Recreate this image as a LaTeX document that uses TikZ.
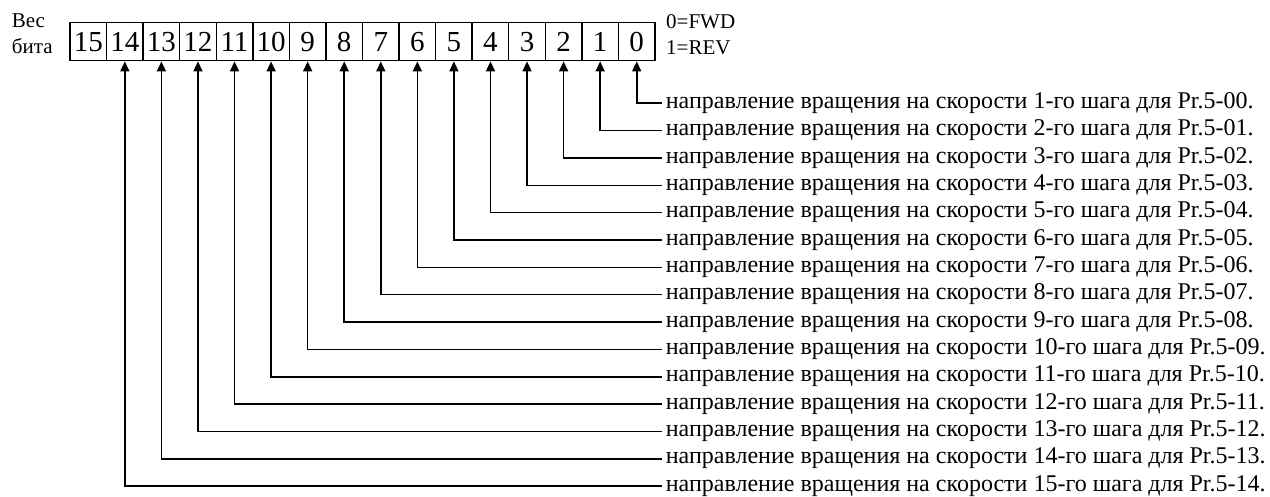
\documentclass[tikz,border=0pt]{standalone}
\usepackage{fontspec}
\setmainfont{Liberation Serif}
\usetikzlibrary{arrows.meta}
\tikzset{
  cell/.style={draw, line width=1.4pt, minimum width=36.5625pt, minimum height=38pt, inner sep=0pt, font=\fontsize{29}{29}\selectfont},
  lbl/.style={anchor=west, inner xsep=4pt, inner ysep=0pt, text height=16pt, text depth=5.5pt, font=\fontsize{24}{24}\selectfont},
  side/.style={anchor=base west, inner sep=0pt, font=\fontsize{21}{21}\selectfont},
  conn/.style={line width=1.6pt, -{Triangle[length=10pt,width=9pt]}}
}
\begin{document}
\begin{tikzpicture}[x=1pt,y=-1pt]
\useasboundingbox (0,0) rectangle (1270,497);
\foreach \i in {0,...,15}{
  \node[cell] (c\i) at ({70+36.5625*(15.5-\i)}, 41.7) {\i};
}
\node[side] (w1) at (11.7,27.3) {Вес};
\node[side] (w2) at (11.7,53.3) {бита};
\node[side] (f0) at (666,28.3) {0=FWD};
\node[side] (f1) at (666,55) {1=REV};
\foreach \i in {0,...,14}{
  \pgfmathtruncatemacro{\r}{\i+1}
  \coordinate (r\i) at (661.7, {103.3+27.34*\i});
  \node[lbl] (t\i) at (r\i) {направление вращения на скорости \r-го шага для Pr.5-\ifnum\i<10 0\fi\i.};
  \draw[conn] (r\i) -| (c\i.south);
}
\end{tikzpicture}
\end{document}
